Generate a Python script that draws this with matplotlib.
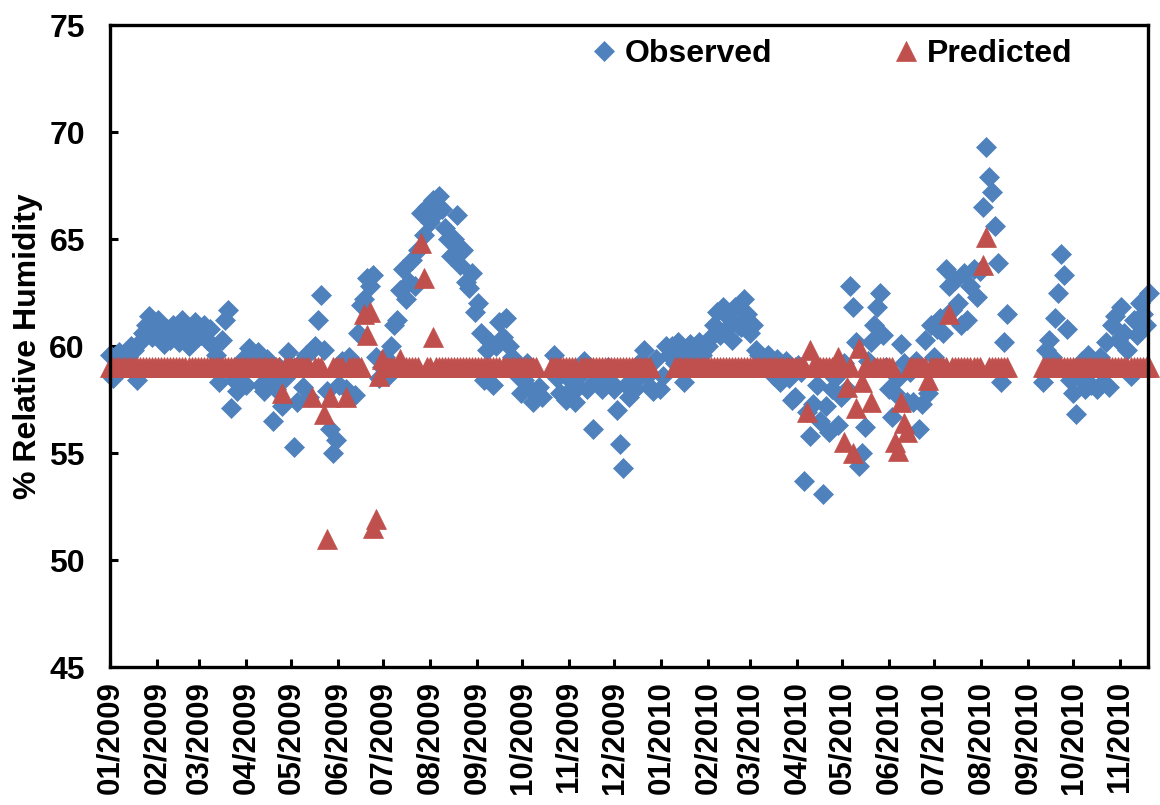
import numpy as np
import pandas as pd
import matplotlib
matplotlib.use("Agg")
import matplotlib.pyplot as plt
import matplotlib.dates as mdates

nan = np.nan

# -------------------------------
# data: one reading every 2 days from 01/01/2009
# -------------------------------
start_date = "2009-01-01"
step = "2D"

obs_rh = [
    59.6, 58.5, 59.4, 59.7, 59.2, 59.0, 59.5, 60.0, 59.8, 58.4,
    60.2, 60.6, 61.0, 61.4, 60.4, 60.9, 61.2, 60.5, 60.1, 60.8,
    60.3, 61.0, 60.7, 60.2, 61.2, 60.5, 60.0, 60.9, 61.1, 60.4,
    60.5, 61.0, 60.3, 60.8, 60.0, 59.6, 58.3, 60.3, 61.2, 61.7,
    57.1, 58.4, 57.9, 58.8, 59.4, 58.2, 59.9, 59.6, 59.2, 59.7,
    58.2, 57.9, 59.4, 58.6, 56.5, 58.0, 59.0, 57.2, 58.5, 59.7,
    59.0, 55.3, 57.4, 59.2, 58.1, 59.6, 57.6, 59.8, 60.0, 61.2,
    62.4, 59.8, 57.9, 56.1, 55.0, 55.6, 58.2, 59.3, 58.0, 59.5,
    59.3, 57.7, 60.6, 61.9, 62.2, 63.2, 62.8, 63.3, 59.5, 58.5,
    59.0, 59.5, 58.6, 60.0, 61.0, 61.2, 62.6, 63.6, 62.2, 63.0,
    64.0, 62.8, 64.5, 66.2, 65.2, 66.5, 65.8, 66.8, 66.2, 67.0,
    66.4, 65.5, 65.0, 64.2, 65.0, 66.1, 63.8, 64.5, 63.0, 62.7,
    63.4, 61.6, 62.0, 60.6, 58.4, 59.8, 60.2, 58.2, 60.0, 61.1,
    60.4, 61.3, 60.0, 59.5, 59.0, 58.6, 57.8, 58.4, 59.2, 58.0,
    57.4, 57.8, 58.1, 57.6, nan, nan, nan, 59.6, 58.5, 57.8,
    58.9, 57.5, 57.9, 58.3, 57.4, 58.1, 58.7, 59.3, 58.0, 59.0,
    56.1, 58.4, 58.9, 58.0, 58.6, 59.0, 58.3, 58.0, 57.0, 55.4,
    54.3, 58.2, 57.6, 58.8, 58.0, 58.5, 59.3, 59.8, 58.6, 58.1,
    57.9, 59.4, 58.0, 58.6, 60.0, 59.6, 60.0, 59.2, 60.2, 59.5,
    58.3, 59.8, 60.1, 59.3, 60.0, 60.2, 59.6, 59.0, 60.0, 60.4,
    61.0, 61.6, 60.5, 61.8, 60.8, 61.3, 60.3, 61.8, 61.0, 60.9,
    62.2, 61.5, 60.6, 61.0, 59.8, 59.6, 59.5, 59.0, 59.6, 59.2,
    58.6, 59.4, 58.3, 59.0, 59.3, 58.5, 57.5, 57.6, 59.1, 58.8,
    53.7, 56.9, 55.8, 57.3, 58.2, 56.5, 53.1, 57.2, 56.0, 58.0,
    58.5, 56.3, 57.6, 59.2, 58.0, 62.8, 61.8, 60.2, 54.4, 55.0,
    56.2, 59.3, 60.2, 61.0, 61.8, 62.5, 60.5, 59.0, 58.0, 56.7,
    57.8, 58.5, 60.1, 59.2, 57.4, 58.8, 57.4, 59.3, 56.1, 57.3,
    60.3, 57.8, 61.0, 59.5, 60.8, 61.3, 60.6, 63.6, 62.8, 61.7,
    63.1, 62.0, 61.0, 63.4, 61.2, 62.8, 63.6, 62.3, 63.5, 66.5,
    69.3, 67.9, 67.2, 65.6, 63.9, 58.3, 60.2, 61.5, nan, nan,
    nan, nan, nan, nan, nan, nan, nan, nan, nan, 58.3,
    59.8, 60.3, 59.5, 61.3, 62.5, 64.3, 63.3, 60.8, 58.4, 57.8,
    56.8, 58.5, 59.3, 58.0, 59.6, 58.2, 59.2, 58.0, 59.5, 58.3,
    60.2, 58.1, 61.0, 61.4, 60.3, 61.8, 60.6, 59.8, 58.6, 61.2,
    60.5, 62.0, 61.5, 61.0, 62.5,
]

pred_rh = [
    59.0, 59.0, 59.0, 59.0, 59.0, 59.0, 59.0, 59.0, 59.0, 59.0,
    59.0, 59.0, 59.0, 59.0, 59.0, 59.0, 59.0, 59.0, 59.0, 59.0,
    59.0, 59.0, 59.0, 59.0, 59.0, 59.0, 59.0, 59.0, 59.0, 59.0,
    59.0, 59.0, 59.0, 59.0, 59.0, 59.0, 59.0, 59.0, 59.0, 59.0,
    59.0, 59.0, 59.0, 59.0, 59.0, 59.0, 59.0, 59.0, 59.0, 59.0,
    59.0, 59.0, 59.0, 59.0, 59.0, 59.0, 59.0, 57.8, 59.0, 59.0,
    59.0, 59.0, 59.0, 59.0, 59.0, 59.0, 59.0, 57.6, 59.0, 59.0,
    59.0, 56.8, 51.0, 57.6, 59.0, 59.0, 59.0, 59.0, 57.6, 59.0,
    59.0, 59.0, 59.0, 59.0, 61.5, 60.5, 61.6, 51.5, 51.9, 58.6,
    59.4, 59.0, 59.0, 59.0, 59.0, 59.0, 59.4, 59.0, 59.0, 59.0,
    59.0, 59.0, 59.0, 64.8, 63.2, 59.0, 59.0, 60.4, 59.0, 59.0,
    59.0, 59.0, 59.0, 59.0, 59.0, 59.0, 59.0, 59.0, 59.0, 59.0,
    59.0, 59.0, 59.0, 59.0, 59.0, 59.0, 59.0, 59.0, 59.0, 59.0,
    59.0, 59.0, 59.0, 59.0, 59.0, 59.0, 59.0, 59.0, 59.0, 59.0,
    59.0, 59.0, nan, nan, nan, nan, 59.0, 59.0, 59.0, 59.0,
    59.0, 59.0, 59.0, 59.0, 59.0, nan, 59.0, 59.0, 59.0, 59.0,
    59.0, 59.0, 59.0, 59.0, 59.0, 59.0, 59.0, 59.0, 59.0, 59.0,
    59.0, 59.0, 59.0, 59.0, 59.0, 59.0, 59.0, 59.0, 59.0, 59.0,
    nan, nan, nan, nan, nan, nan, nan, 59.0, 59.0, 59.0,
    59.0, 59.0, 59.0, 59.0, 59.0, 59.0, 59.0, 59.0, 59.0, 59.0,
    59.0, 59.0, 59.0, 59.0, 59.0, 59.0, 59.0, 59.0, 59.0, 59.0,
    59.0, 59.0, 59.0, 59.0, 59.0, 59.0, 59.0, 59.0, 59.0, 59.0,
    59.0, 59.0, 59.0, 59.0, 59.0, 59.0, 59.0, 59.0, 59.0, 59.0,
    59.0, 56.9, 59.8, 59.0, 59.0, 59.0, 59.0, 59.0, 59.0, 59.0,
    59.0, 59.5, 59.0, 55.5, 58.1, 59.0, 55.0, 57.1, 59.9, 58.3,
    59.0, 59.0, 57.4, 59.0, 59.0, 59.0, 59.0, 59.0, 59.0, 59.0,
    55.5, 55.1, 57.4, 56.4, 56.0, 59.0, 59.0, 59.0, 59.0, 59.0,
    59.0, 58.4, 59.0, 59.0, 59.0, 59.0, 59.0, 59.0, 61.5, 59.0,
    59.0, 59.0, 59.0, 59.0, 59.0, 59.0, 59.0, 59.0, 59.0, 63.8,
    65.1, 59.0, 59.0, 59.0, 59.0, 59.0, 59.0, 59.0, nan, nan,
    nan, nan, nan, nan, nan, nan, nan, nan, nan, 59.0,
    59.0, 59.0, 59.0, 59.0, 59.0, 59.0, 59.0, 59.0, 59.0, 59.0,
    59.0, 59.0, 59.0, 59.0, 59.0, 59.0, 59.0, 59.0, 59.0, 59.0,
    59.0, 59.0, 59.0, 59.0, 59.0, 59.0, 59.0, 59.0, 59.0, 59.0,
    59.0, 59.0, 59.0, 59.0, 59.0,
]

y_ticks = [45, 50, 55, 60, 65, 70, 75]
x_end = "2010-11-19 14:00"

dates = pd.date_range(start_date, periods=len(obs_rh), freq=step)

# -------------------------------
# plot
# -------------------------------
plt.rcParams["font.family"] = ["Liberation Sans", "DejaVu Sans"]
plt.rcParams["font.weight"] = "bold"

blue = "#4F81BD"
red = "#C0504D"

fig = plt.figure(figsize=(11.6, 8.05), dpi=100)
ax = fig.add_axes([110 / 1160, 138 / 805, 1038 / 1160, 642 / 805])

ax.plot(dates, obs_rh, ls="none", marker="D", ms=10, color=blue,
        mec=blue, mew=0.5, clip_on=False, label="Observed")
ax.plot(dates, pred_rh, ls="none", marker="^", ms=14, color=red,
        mec=red, mew=0.5, clip_on=False, label="Predicted")

ax.set_ylim(45, 75)
ax.set_yticks(y_ticks)
ax.set_xlim(pd.Timestamp(start_date), pd.Timestamp(x_end))
ax.xaxis.set_major_locator(mdates.MonthLocator())
ax.xaxis.set_major_formatter(mdates.DateFormatter("%m/%Y"))

ax.tick_params(direction="in", length=6, width=2.2)
ax.tick_params(axis="x", rotation=90, pad=10, labelsize=22.5)
ax.tick_params(axis="y", pad=18, labelsize=23)
for s in ax.spines.values():
    s.set_linewidth(2.4)

ax.set_ylabel("% Relative Humidity", fontsize=23, fontweight="bold")
ax.yaxis.set_label_coords(-0.0645, 0.5)

ax.legend(loc="center left", bbox_to_anchor=(0.4634, 0.955), ncol=2,
          frameon=False, handlelength=0.8, handletextpad=0.25,
          columnspacing=3.8, borderpad=0, borderaxespad=0,
          prop={"size": 23, "weight": "bold"})

fig.savefig("out.png", dpi=100)
